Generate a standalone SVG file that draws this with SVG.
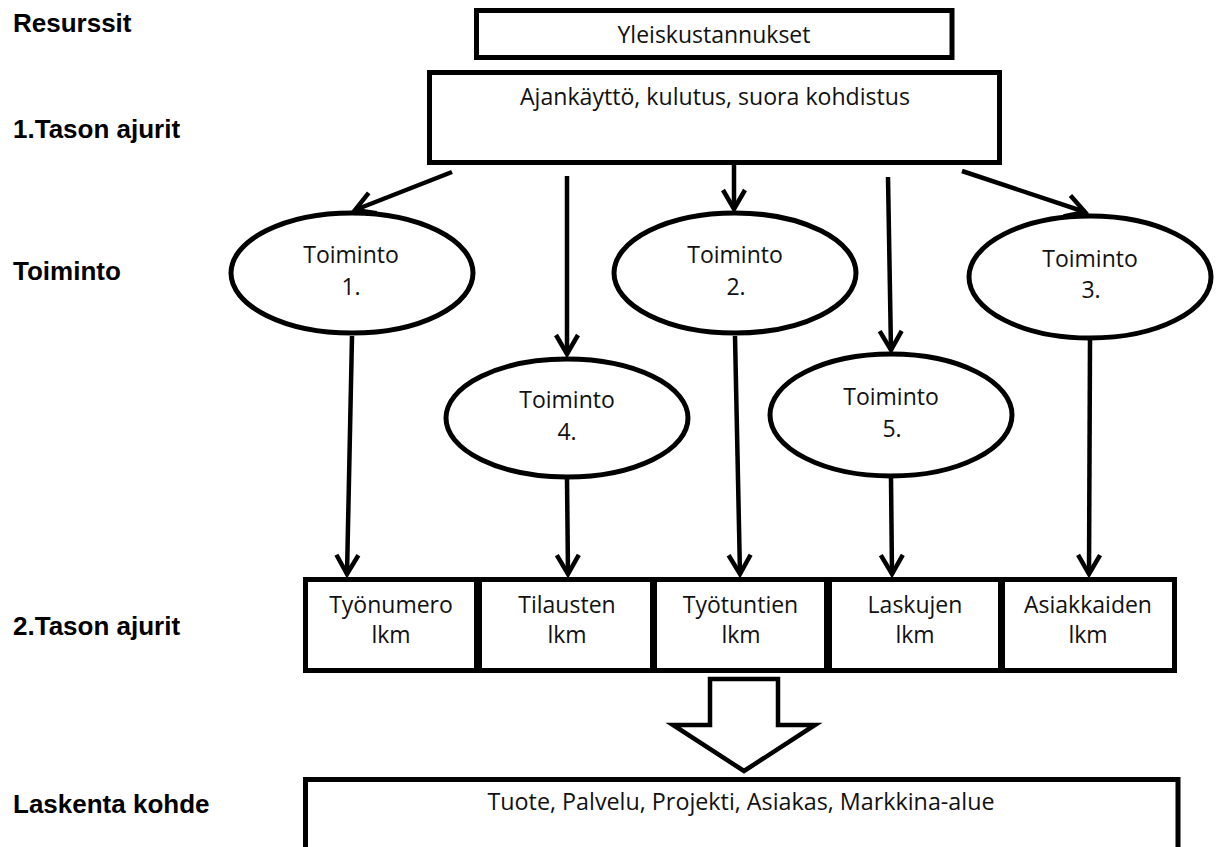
<svg xmlns="http://www.w3.org/2000/svg" width="1221" height="847" viewBox="0 0 1221 847">
  <style>
    .lbl { font-family: "Liberation Sans", Arial, sans-serif; font-weight: bold; font-size: 26px; fill: #000; }
    .txt { font-family: "Open Sans", "Liberation Sans", sans-serif; font-size: 23px; fill: #111; text-anchor: middle; }
    .box { fill: #fff; stroke: #000; stroke-width: 5; }
    .oval { fill: #fff; stroke: #000; stroke-width: 5; }
    .edge { fill: none; stroke: #000; stroke-width: 4.5; marker-end: url(#chev); }
  </style>
  <defs>
    <marker id="chev" markerUnits="userSpaceOnUse" markerWidth="30" markerHeight="30" refX="0" refY="0" orient="auto" overflow="visible">
      <path d="M-19,-11 L0,0 L-19,11" fill="none" stroke="#000" stroke-width="4.5" stroke-linejoin="miter"/>
    </marker>
  </defs>

  <rect width="1221" height="847" fill="#fff"/>

  <!-- level captions -->
  <g id="captions">
    <text class="lbl" x="13" y="32">Resurssit</text>
    <text class="lbl" x="13" y="138">1.Tason ajurit</text>
    <text class="lbl" x="13" y="280">Toiminto</text>
    <text class="lbl" x="13" y="635">2.Tason ajurit</text>
    <text class="lbl" x="13" y="813">Laskenta kohde</text>
  </g>

  <!-- connectors -->
  <g id="connectors">
    <line class="edge" x1="452" y1="172" x2="355" y2="210"/>
    <line class="edge" x1="567" y1="176" x2="567" y2="354"/>
    <line class="edge" x1="734" y1="165" x2="734" y2="209"/>
    <line class="edge" x1="888" y1="177" x2="891" y2="350"/>
    <line class="edge" x1="962" y1="171" x2="1085" y2="212"/>

    <line class="edge" x1="352" y1="336" x2="347" y2="574"/>
    <line class="edge" x1="567" y1="479" x2="568" y2="574"/>
    <line class="edge" x1="735" y1="336" x2="740" y2="574"/>
    <line class="edge" x1="891" y1="478" x2="892" y2="574"/>
    <line class="edge" x1="1090" y1="340" x2="1089" y2="574"/>

    <!-- block arrow into the cost object -->
    <polygon points="710,679 778,679 778,725 815,725 744,771 673,725 710,725" fill="#fff" stroke="#000" stroke-width="4.5" stroke-linejoin="miter"/>
  </g>

  <g id="overhead">
    <rect class="box" x="476.5" y="10.5" width="475.5" height="47"/>
    <text class="txt" x="714" y="43">Yleiskustannukset</text>
  </g>

  <g id="drivers1">
    <rect class="box" x="429.5" y="72.5" width="570" height="90"/>
    <text class="txt" x="715" y="105" textLength="390" lengthAdjust="spacingAndGlyphs">Ajankäyttö, kulutus, suora kohdistus</text>
  </g>

  <g id="activity1">
    <ellipse class="oval" cx="352" cy="273" rx="121" ry="60"/>
    <text class="txt" x="351" y="263">Toiminto</text>
    <text class="txt" x="351" y="295">1.</text>
  </g>
  <g id="activity2">
    <ellipse class="oval" cx="735" cy="273" rx="121" ry="60"/>
    <text class="txt" x="735" y="263">Toiminto</text>
    <text class="txt" x="736" y="295">2.</text>
  </g>
  <g id="activity3">
    <ellipse class="oval" cx="1090" cy="277" rx="121" ry="61"/>
    <text class="txt" x="1090" y="267">Toiminto</text>
    <text class="txt" x="1091" y="298">3.</text>
  </g>
  <g id="activity4">
    <ellipse class="oval" cx="567" cy="418" rx="121" ry="59"/>
    <text class="txt" x="567" y="408">Toiminto</text>
    <text class="txt" x="567" y="440">4.</text>
  </g>
  <g id="activity5">
    <ellipse class="oval" cx="891" cy="415" rx="121" ry="61"/>
    <text class="txt" x="891" y="405">Toiminto</text>
    <text class="txt" x="892" y="437">5.</text>
  </g>

  <g id="driver-tyonumero">
    <rect class="box" x="305.5" y="579.5" width="171" height="91"/>
    <text class="txt" x="391" y="613">Työnumero</text>
    <text class="txt" x="391" y="643">lkm</text>
  </g>
  <g id="driver-tilausten">
    <rect class="box" x="479.5" y="579.5" width="173" height="91"/>
    <text class="txt" x="567" y="613">Tilausten</text>
    <text class="txt" x="567" y="643">lkm</text>
  </g>
  <g id="driver-tyotuntien">
    <rect class="box" x="654.5" y="579.5" width="172" height="91"/>
    <text class="txt" x="740.5" y="613">Työtuntien</text>
    <text class="txt" x="741" y="643">lkm</text>
  </g>
  <g id="driver-laskujen">
    <rect class="box" x="829.5" y="579.5" width="171" height="91"/>
    <text class="txt" x="915" y="613">Laskujen</text>
    <text class="txt" x="915" y="643">lkm</text>
  </g>
  <g id="driver-asiakkaiden">
    <rect class="box" x="1002.5" y="579.5" width="172" height="91"/>
    <text class="txt" x="1088" y="613">Asiakkaiden</text>
    <text class="txt" x="1088" y="643">lkm</text>
  </g>

  <g id="cost-object">
    <rect class="box" x="305.5" y="779.5" width="872.5" height="70"/>
    <text class="txt" x="741" y="810" textLength="507" lengthAdjust="spacingAndGlyphs">Tuote, Palvelu, Projekti, Asiakas, Markkina-alue</text>
  </g>
</svg>
